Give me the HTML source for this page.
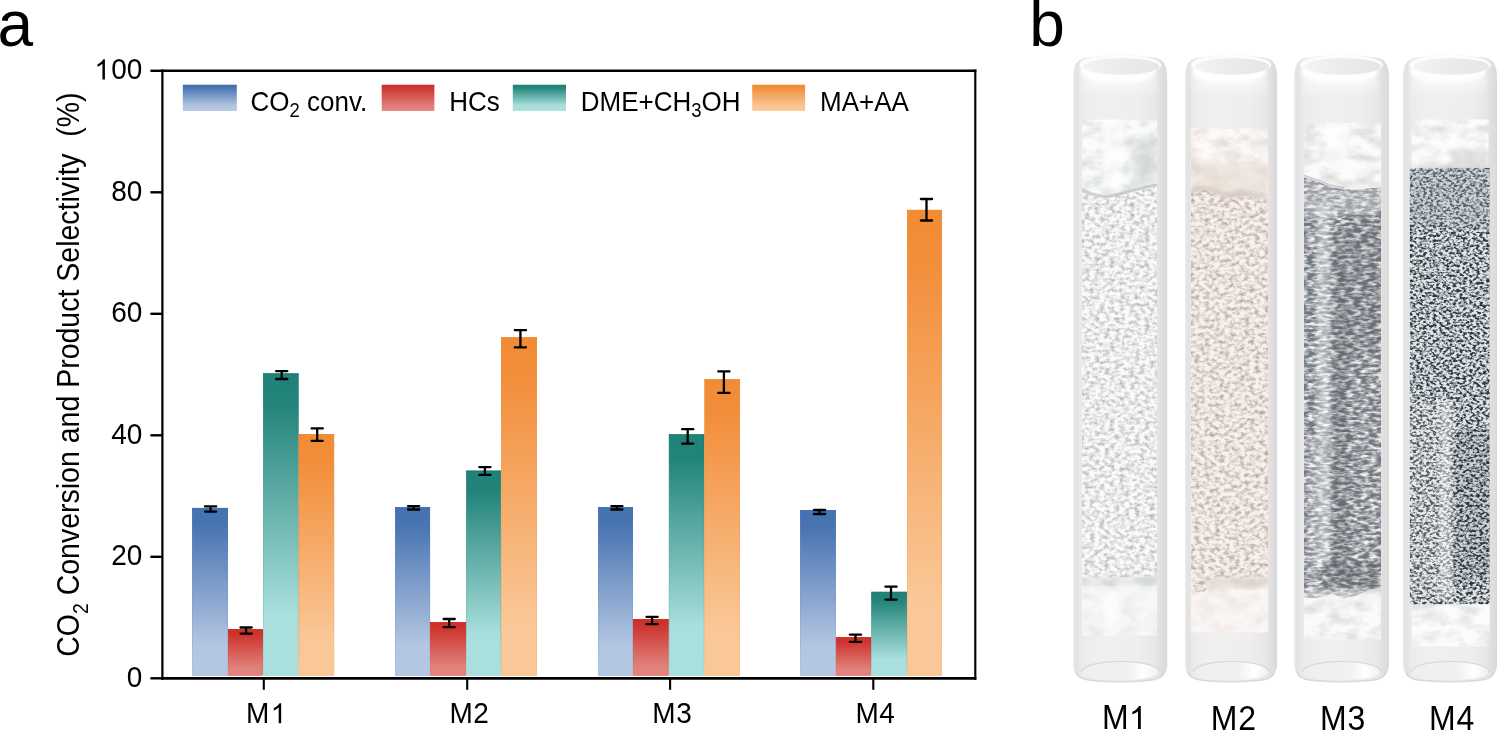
<!DOCTYPE html>
<html><head><meta charset="utf-8"><title>figure</title>
<style>html,body{margin:0;padding:0;background:#fff;}svg{display:block;will-change:transform;}</style></head><body>
<svg width="1498" height="730" viewBox="0 0 1498 730">
<defs>
<linearGradient id="gB" x1="0" y1="0" x2="0" y2="1"><stop offset="0" stop-color="#4472b0"/><stop offset="0.1" stop-color="#4874b1"/><stop offset="0.82" stop-color="#b3c6e2"/><stop offset="1" stop-color="#b3c6e2"/></linearGradient>
<linearGradient id="gR" x1="0" y1="0" x2="0" y2="1"><stop offset="0" stop-color="#cc2f28"/><stop offset="0.1" stop-color="#cd332d"/><stop offset="0.85" stop-color="#e1837c"/><stop offset="1" stop-color="#e1837c"/></linearGradient>
<linearGradient id="gT" x1="0" y1="0" x2="0" y2="1"><stop offset="0" stop-color="#1f8177"/><stop offset="0.1" stop-color="#23847a"/><stop offset="0.8" stop-color="#a9dfdc"/><stop offset="1" stop-color="#a9dfdc"/></linearGradient>
<linearGradient id="gO" x1="0" y1="0" x2="0" y2="1"><stop offset="0" stop-color="#f28b35"/><stop offset="0.1" stop-color="#f28d39"/><stop offset="0.85" stop-color="#fac898"/><stop offset="1" stop-color="#fac898"/></linearGradient>
<linearGradient id="gBs" x1="0" y1="0" x2="0" y2="1"><stop offset="0" stop-color="#2a5aa4"/><stop offset="1" stop-color="#a3bade"/></linearGradient>
<linearGradient id="gRs" x1="0" y1="0" x2="0" y2="1"><stop offset="0" stop-color="#c4140c"/><stop offset="1" stop-color="#e07068"/></linearGradient>
<linearGradient id="gTs" x1="0" y1="0" x2="0" y2="1"><stop offset="0" stop-color="#0c746a"/><stop offset="1" stop-color="#98d8d4"/></linearGradient>
<linearGradient id="gOs" x1="0" y1="0" x2="0" y2="1"><stop offset="0" stop-color="#ee7c1c"/><stop offset="1" stop-color="#f9b878"/></linearGradient>
<linearGradient id="tubeG" x1="0" y1="0" x2="1" y2="0"><stop offset="0" stop-color="#e9e9e9"/><stop offset="0.035" stop-color="#e2e2e2"/><stop offset="0.09" stop-color="#ebebeb"/><stop offset="0.3" stop-color="#f0f0f0"/><stop offset="0.7" stop-color="#eeeeee"/><stop offset="0.88" stop-color="#e7e7e7"/><stop offset="0.95" stop-color="#dedede"/><stop offset="1" stop-color="#dadada"/></linearGradient>
<linearGradient id="topFade" x1="0" y1="0" x2="0" y2="1"><stop offset="0" stop-color="#fff" stop-opacity="0.6"/><stop offset="1" stop-color="#fff" stop-opacity="0"/></linearGradient>
<linearGradient id="rimG" x1="0" y1="0" x2="1" y2="0"><stop offset="0" stop-color="#f4f4f4"/><stop offset="0.5" stop-color="#ebebeb"/><stop offset="1" stop-color="#e6e6e6"/></linearGradient>
<linearGradient id="botG" x1="0" y1="0" x2="1" y2="0"><stop offset="0" stop-color="#efefef"/><stop offset="0.6" stop-color="#f1f1f1"/><stop offset="0.8" stop-color="#ffffff"/><stop offset="1" stop-color="#f0f0f0"/></linearGradient>
<filter id="soft" x="-5%" y="-5%" width="110%" height="110%"><feGaussianBlur stdDeviation="0.7"/></filter>
<filter id="soft3" x="-20%" y="-40%" width="140%" height="180%"><feGaussianBlur stdDeviation="1.6"/></filter>
<filter id="soft2" x="-30%" y="-30%" width="160%" height="160%"><feGaussianBlur stdDeviation="2.4"/></filter>
<filter id="g1" filterUnits="userSpaceOnUse" x="1060" y="100" width="440" height="560" color-interpolation-filters="sRGB"><feTurbulence type="fractalNoise" baseFrequency="0.2 0.28" numOctaves="3" seed="3"/><feColorMatrix type="matrix" values="2.2 0 0 0 -0.33 2.2 0 0 0 -0.33 2.2 0 0 0 -0.33 0 0 0 0 1"/><feGaussianBlur stdDeviation="0.3"/><feComponentTransfer><feFuncR type="table" tableValues="0.714 0.984"/><feFuncG type="table" tableValues="0.714 0.984"/><feFuncB type="table" tableValues="0.714 0.984"/></feComponentTransfer><feComposite in2="SourceGraphic" operator="in"/></filter>
<filter id="w1" filterUnits="userSpaceOnUse" x="1060" y="100" width="440" height="560" color-interpolation-filters="sRGB"><feTurbulence type="fractalNoise" baseFrequency="0.05 0.08" numOctaves="4" seed="5"/><feColorMatrix type="matrix" values="2.2 0 0 0 -0.42 2.2 0 0 0 -0.42 2.2 0 0 0 -0.42 0 0 0 0 1"/><feComponentTransfer><feFuncR type="table" tableValues="0.839 0.988"/><feFuncG type="table" tableValues="0.859 0.988"/><feFuncB type="table" tableValues="0.859 0.988"/></feComponentTransfer><feComposite in2="SourceGraphic" operator="in"/></filter>
<filter id="g2" filterUnits="userSpaceOnUse" x="1060" y="100" width="440" height="560" color-interpolation-filters="sRGB"><feTurbulence type="fractalNoise" baseFrequency="0.2 0.27" numOctaves="3" seed="8"/><feColorMatrix type="matrix" values="2.2 0 0 0 -0.32 2.2 0 0 0 -0.32 2.2 0 0 0 -0.32 0 0 0 0 1"/><feGaussianBlur stdDeviation="0.3"/><feComponentTransfer><feFuncR type="table" tableValues="0.690 0.980"/><feFuncG type="table" tableValues="0.643 0.945"/><feFuncB type="table" tableValues="0.612 0.933"/></feComponentTransfer><feComposite in2="SourceGraphic" operator="in"/></filter>
<filter id="w2" filterUnits="userSpaceOnUse" x="1060" y="100" width="440" height="560" color-interpolation-filters="sRGB"><feTurbulence type="fractalNoise" baseFrequency="0.05 0.08" numOctaves="4" seed="9"/><feColorMatrix type="matrix" values="2.2 0 0 0 -0.38 2.2 0 0 0 -0.38 2.2 0 0 0 -0.38 0 0 0 0 1"/><feComponentTransfer><feFuncR type="table" tableValues="0.902 0.992"/><feFuncG type="table" tableValues="0.867 0.980"/><feFuncB type="table" tableValues="0.847 0.973"/></feComponentTransfer><feComposite in2="SourceGraphic" operator="in"/></filter>
<filter id="g3" filterUnits="userSpaceOnUse" x="1060" y="100" width="440" height="560" color-interpolation-filters="sRGB"><feTurbulence type="fractalNoise" baseFrequency="0.13 0.34" numOctaves="2" seed="12"/><feColorMatrix type="matrix" values="2.6 0 0 0 -0.93 2.6 0 0 0 -0.93 2.6 0 0 0 -0.93 0 0 0 0 1"/><feGaussianBlur stdDeviation="0.4"/><feComponentTransfer><feFuncR type="table" tableValues="0.447 0.949"/><feFuncG type="table" tableValues="0.471 0.949"/><feFuncB type="table" tableValues="0.502 0.949"/></feComponentTransfer><feComposite in2="SourceGraphic" operator="in"/></filter>
<filter id="w3" filterUnits="userSpaceOnUse" x="1060" y="100" width="440" height="560" color-interpolation-filters="sRGB"><feTurbulence type="fractalNoise" baseFrequency="0.05 0.08" numOctaves="4" seed="15"/><feColorMatrix type="matrix" values="2.2 0 0 0 -0.38 2.2 0 0 0 -0.38 2.2 0 0 0 -0.38 0 0 0 0 1"/><feComponentTransfer><feFuncR type="table" tableValues="0.878 0.992"/><feFuncG type="table" tableValues="0.863 0.988"/><feFuncB type="table" tableValues="0.863 0.988"/></feComponentTransfer><feComposite in2="SourceGraphic" operator="in"/></filter>
<filter id="g4" filterUnits="userSpaceOnUse" x="1060" y="100" width="440" height="560" color-interpolation-filters="sRGB"><feTurbulence type="fractalNoise" baseFrequency="0.3 0.4" numOctaves="2" seed="21"/><feColorMatrix type="matrix" values="3.8 0 0 0 -1.24 3.8 0 0 0 -1.24 3.8 0 0 0 -1.24 0 0 0 0 1"/><feGaussianBlur stdDeviation="0.3"/><feComponentTransfer><feFuncR type="table" tableValues="0.188 0.878"/><feFuncG type="table" tableValues="0.220 0.902"/><feFuncB type="table" tableValues="0.243 0.918"/></feComponentTransfer><feComposite in2="SourceGraphic" operator="in"/></filter>
<filter id="w4" filterUnits="userSpaceOnUse" x="1060" y="100" width="440" height="560" color-interpolation-filters="sRGB"><feTurbulence type="fractalNoise" baseFrequency="0.05 0.08" numOctaves="4" seed="25"/><feColorMatrix type="matrix" values="2.2 0 0 0 -0.38 2.2 0 0 0 -0.38 2.2 0 0 0 -0.38 0 0 0 0 1"/><feComponentTransfer><feFuncR type="table" tableValues="0.875 0.992"/><feFuncG type="table" tableValues="0.882 0.992"/><feFuncB type="table" tableValues="0.882 0.992"/></feComponentTransfer><feComposite in2="SourceGraphic" operator="in"/></filter>
<clipPath id="cp1"><rect x="1082.0" y="119.4" width="75.1" height="516.1"/></clipPath>
<clipPath id="cp2"><rect x="1191.0" y="128.2" width="77.0" height="504.4"/></clipPath>
<clipPath id="cp3"><rect x="1304.0" y="123.0" width="77.0" height="516.6"/></clipPath>
<clipPath id="cp4"><rect x="1409.6" y="119.2" width="80.2" height="527.4"/></clipPath>
</defs>
<rect width="1498" height="730" fill="#fff"/>
<text x="-2.4" y="46.3" font-family="Liberation Sans, sans-serif" font-size="64">a</text>
<text x="1029.3" y="46.3" font-family="Liberation Sans, sans-serif" font-size="64">b</text>
<rect x="192.45" y="508.25" width="35.20" height="167.20" fill="url(#gB)" stroke="url(#gBs)" stroke-width="0.7"/>
<rect x="228.35" y="629.45" width="34.30" height="46.00" fill="url(#gR)" stroke="url(#gRs)" stroke-width="0.7"/>
<rect x="263.35" y="373.65" width="34.90" height="301.80" fill="url(#gT)" stroke="url(#gTs)" stroke-width="0.7"/>
<rect x="298.95" y="434.35" width="34.90" height="241.10" fill="url(#gO)" stroke="url(#gOs)" stroke-width="0.7"/>
<rect x="395.45" y="507.45" width="34.30" height="168.00" fill="url(#gB)" stroke="url(#gBs)" stroke-width="0.7"/>
<rect x="430.45" y="622.40" width="35.30" height="53.05" fill="url(#gR)" stroke="url(#gRs)" stroke-width="0.7"/>
<rect x="466.45" y="470.85" width="34.20" height="204.60" fill="url(#gT)" stroke="url(#gTs)" stroke-width="0.7"/>
<rect x="501.35" y="337.55" width="35.30" height="337.90" fill="url(#gO)" stroke="url(#gOs)" stroke-width="0.7"/>
<rect x="598.45" y="507.45" width="34.20" height="168.00" fill="url(#gB)" stroke="url(#gBs)" stroke-width="0.7"/>
<rect x="633.35" y="619.35" width="35.10" height="56.10" fill="url(#gR)" stroke="url(#gRs)" stroke-width="0.7"/>
<rect x="669.15" y="434.55" width="34.90" height="240.90" fill="url(#gT)" stroke="url(#gTs)" stroke-width="0.7"/>
<rect x="704.75" y="379.55" width="34.90" height="295.90" fill="url(#gO)" stroke="url(#gOs)" stroke-width="0.7"/>
<rect x="800.45" y="510.45" width="35.10" height="165.00" fill="url(#gB)" stroke="url(#gBs)" stroke-width="0.7"/>
<rect x="836.25" y="637.45" width="34.70" height="38.00" fill="url(#gR)" stroke="url(#gRs)" stroke-width="0.7"/>
<rect x="871.65" y="592.05" width="35.10" height="83.40" fill="url(#gT)" stroke="url(#gTs)" stroke-width="0.7"/>
<rect x="907.45" y="210.15" width="34.20" height="465.30" fill="url(#gO)" stroke="url(#gOs)" stroke-width="0.7"/>
<path d="M205.0 506.4H216.2M205.0 511.6H216.2M210.6 506.4V511.6" stroke="#000" stroke-width="2.3" stroke-linecap="round" fill="none"/>
<path d="M240.5 627.5H251.7M240.5 633.6H251.7M246.1 627.5V633.6" stroke="#000" stroke-width="2.3" stroke-linecap="round" fill="none"/>
<path d="M276.1 371.2H287.3M276.1 379.0H287.3M281.7 371.2V379.0" stroke="#000" stroke-width="2.3" stroke-linecap="round" fill="none"/>
<path d="M311.6 428.4H322.8M311.6 440.8H322.8M317.2 428.4V440.8" stroke="#000" stroke-width="2.3" stroke-linecap="round" fill="none"/>
<path d="M408.0 506.1H419.2M408.0 509.5H419.2M413.6 506.1V509.5" stroke="#000" stroke-width="2.3" stroke-linecap="round" fill="none"/>
<path d="M443.6 619.0H454.8M443.6 627.05H454.8M449.2 619.0V627.05" stroke="#000" stroke-width="2.3" stroke-linecap="round" fill="none"/>
<path d="M479.3 467.05H490.5M479.3 474.9H490.5M484.9 467.05V474.9" stroke="#000" stroke-width="2.3" stroke-linecap="round" fill="none"/>
<path d="M514.8 330.2H526.0M514.8 347.3H526.0M520.4 330.2V347.3" stroke="#000" stroke-width="2.3" stroke-linecap="round" fill="none"/>
<path d="M611.3 506.1H622.5M611.3 509.5H622.5M616.9 506.1V509.5" stroke="#000" stroke-width="2.3" stroke-linecap="round" fill="none"/>
<path d="M646.5 616.8H657.7M646.5 624.1H657.7M652.1 616.8V624.1" stroke="#000" stroke-width="2.3" stroke-linecap="round" fill="none"/>
<path d="M682.1 429.2H693.3M682.1 443.6H693.3M687.7 429.2V443.6" stroke="#000" stroke-width="2.3" stroke-linecap="round" fill="none"/>
<path d="M718.3 371.4H729.5M718.3 392.9H729.5M723.9 371.4V392.9" stroke="#000" stroke-width="2.3" stroke-linecap="round" fill="none"/>
<path d="M813.9 510.0H825.1M813.9 514.0H825.1M819.5 510.0V514.0" stroke="#000" stroke-width="2.3" stroke-linecap="round" fill="none"/>
<path d="M849.9 634.7H861.1M849.9 641.8H861.1M855.5 634.7V641.8" stroke="#000" stroke-width="2.3" stroke-linecap="round" fill="none"/>
<path d="M885.4 586.7H896.6M885.4 599.6H896.6M891.0 586.7V599.6" stroke="#000" stroke-width="2.3" stroke-linecap="round" fill="none"/>
<path d="M920.9 199.0H932.1M920.9 220.5H932.1M926.5 199.0V220.5" stroke="#000" stroke-width="2.3" stroke-linecap="round" fill="none"/>
<path d="M162.4 69.6V679.65" stroke="#000" stroke-width="2.25" fill="none"/>
<path d="M975.3 69.6V679.65" stroke="#000" stroke-width="2.15" fill="none"/>
<path d="M161.3 70.8H976.3499999999999" stroke="#000" stroke-width="2.4" fill="none"/>
<path d="M161.3 678.3H976.3499999999999" stroke="#000" stroke-width="2.7" fill="none"/>
<line x1="150.4" y1="70.80" x2="162.4" y2="70.80" stroke="#000" stroke-width="2.4"/>
<path transform="translate(94.48,79.40) scale(0.013672,0.013672)" d="M763 0H583V-1147Q518 -1085 412.5 -1023Q307 -961 223 -930V-1104Q374 -1175 487 -1276Q600 -1377 647 -1472H763Z" fill="#000"/><text transform="translate(111.26,79.4) scale(1.0,1.075)" font-family="Liberation Sans, sans-serif" font-size="28">00</text>
<line x1="150.4" y1="192.30" x2="162.4" y2="192.30" stroke="#000" stroke-width="2.4"/>
<text transform="translate(111.26,200.9) scale(1.0,1.075)" font-family="Liberation Sans, sans-serif" font-size="28">80</text>
<line x1="150.4" y1="313.80" x2="162.4" y2="313.80" stroke="#000" stroke-width="2.4"/>
<text transform="translate(111.26,322.4) scale(1.0,1.075)" font-family="Liberation Sans, sans-serif" font-size="28">60</text>
<line x1="150.4" y1="435.30" x2="162.4" y2="435.30" stroke="#000" stroke-width="2.4"/>
<text transform="translate(111.26,443.9) scale(1.0,1.075)" font-family="Liberation Sans, sans-serif" font-size="28">40</text>
<line x1="150.4" y1="556.80" x2="162.4" y2="556.80" stroke="#000" stroke-width="2.4"/>
<text transform="translate(111.26,565.4) scale(1.0,1.075)" font-family="Liberation Sans, sans-serif" font-size="28">20</text>
<line x1="150.4" y1="678.30" x2="162.4" y2="678.30" stroke="#000" stroke-width="2.4"/>
<text transform="translate(126.83,686.9) scale(1.0,1.075)" font-family="Liberation Sans, sans-serif" font-size="28">0</text>
<line x1="263.8" y1="678.3" x2="263.8" y2="689.8" stroke="#000" stroke-width="2.1"/>
<text transform="translate(246.0,723.3) scale(1.0,1.08)" font-family="Liberation Sans, sans-serif" font-size="28">M</text><path transform="translate(270.73,723.30) scale(0.013672,0.013672)" d="M763 0H583V-1147Q518 -1085 412.5 -1023Q307 -961 223 -930V-1104Q374 -1175 487 -1276Q600 -1377 647 -1472H763Z" fill="#000"/>
<line x1="467.2" y1="678.3" x2="467.2" y2="689.8" stroke="#000" stroke-width="2.1"/>
<text transform="translate(449.4,723.3) scale(1.0,1.08)" font-family="Liberation Sans, sans-serif" font-size="28">M</text><text transform="translate(473.23,723.3) scale(1.0,1.08)" font-family="Liberation Sans, sans-serif" font-size="28">2</text>
<line x1="670.1" y1="678.3" x2="670.1" y2="689.8" stroke="#000" stroke-width="2.1"/>
<text transform="translate(652.3,723.3) scale(1.0,1.08)" font-family="Liberation Sans, sans-serif" font-size="28">M</text><text transform="translate(676.13,723.3) scale(1.0,1.08)" font-family="Liberation Sans, sans-serif" font-size="28">3</text>
<line x1="873.3" y1="678.3" x2="873.3" y2="689.8" stroke="#000" stroke-width="2.1"/>
<text transform="translate(855.5,723.3) scale(1.0,1.08)" font-family="Liberation Sans, sans-serif" font-size="28">M</text><text transform="translate(879.33,723.3) scale(1.0,1.08)" font-family="Liberation Sans, sans-serif" font-size="28">4</text>
<rect x="182.8" y="84.7" width="54.0" height="26.2" fill="url(#gB)"/>
<rect x="381.7" y="84.7" width="52.7" height="26.2" fill="url(#gR)"/>
<rect x="512.8" y="84.7" width="53.2" height="26.2" fill="url(#gT)"/>
<rect x="752.2" y="84.7" width="52.9" height="26.2" fill="url(#gO)"/>
<text transform="translate(250.6,110.9) scale(1,1.055)" font-family="Liberation Sans, sans-serif" font-size="26">CO<tspan font-size="18.5" dy="6">2</tspan><tspan dy="-6"> conv.</tspan></text>
<text transform="translate(449.3,110.9) scale(1,1.055)" font-family="Liberation Sans, sans-serif" font-size="26">HCs</text>
<text transform="translate(580.7,110.9) scale(1,1.055)" font-family="Liberation Sans, sans-serif" font-size="26">DME+CH<tspan font-size="18.5" dy="6">3</tspan><tspan dy="-6">OH</tspan></text>
<text transform="translate(820.0,110.9) scale(1,1.055)" font-family="Liberation Sans, sans-serif" font-size="26">MA+AA</text>
<text transform="translate(79.3,656.8) rotate(-90) scale(1,1.12)" font-family="Liberation Sans, sans-serif" font-size="28.5">CO<tspan font-size="19.5" dy="7.5">2</tspan><tspan dy="-7.5"> Conversion and Product Selectivity</tspan><tspan dx="16.6">(%)</tspan></text>
<g filter="url(#soft)"><path d="M1073.2 77.5 Q1073.2 58.5 1086.2 57.5 Q1120.2 52.5 1154.2 57.5 Q1167.2 58.5 1167.2 77.5 V664.4 Q1167.2 678.4 1150.2 679.9 Q1120.2 682.9 1090.2 679.9 Q1073.2 678.4 1073.2 664.4 Z" fill="url(#tubeG)"/></g>
<ellipse cx="1118.2" cy="72" rx="38.0" ry="11.5" fill="#fff" opacity="0.95" filter="url(#soft3)"/>
<rect x="1082.2" y="78" width="74.0" height="20" fill="url(#topFade)" filter="url(#soft2)"/>
<ellipse cx="1120.2" cy="65.2" rx="41.0" ry="10.2" fill="#fcfcfc" filter="url(#soft)"/>
<ellipse cx="1121.4" cy="66.4" rx="37.8" ry="8.2" fill="url(#rimG)" filter="url(#soft)"/>
<path d="M1076.2 672.4 Q1078.2 679.0 1090.2 680.1999999999999 Q1120.2 683.1999999999999 1150.2 680.1999999999999 Q1162.2 679.0 1164.2 672.4" fill="none" stroke="#d2d2d2" stroke-width="1.6" opacity="0.8" filter="url(#soft)"/>
<path d="M1081.7 671.9 A38.7 10.6 0 0 1 1159.2 671.9 Q1155.2 679.1999999999999 1120.2 679.8 Q1085.2 679.1999999999999 1081.7 671.9Z" fill="url(#botG)" filter="url(#soft)"/>
<path d="M1081.7 671.9 A38.7 10.6 0 0 1 1159.2 671.9" fill="none" stroke="#d9d9d9" stroke-width="1.3" filter="url(#soft)"/>
<g clip-path="url(#cp1)">
<rect x="1082.0" y="119.4" width="75.1" height="516.1" fill="#000" opacity="1" filter="url(#w1)"/>
<rect x="1102.0" y="119.4" width="22.0" height="70.0" fill="#fff" opacity="0.65" filter="url(#soft2)"/>
<rect x="1132.0" y="145.4" width="25.1" height="40.0" fill="#c4c9c9" opacity="0.4" filter="url(#soft2)"/>
<path d="M1082.0 191.0 L1092.0 195.0 L1106.0 198.0 L1120.0 195.0 L1134.0 191.0 L1146.0 188.0 L1157.1 186.0 L1157.1 576.0 L1132.0 577.0 L1107.0 578.0 L1082.0 577.0Z" filter="url(#g1)"/>
<path d="M1082.0 190.0 L1092.0 194.0 L1106.0 197.0 L1120.0 194.0 L1134.0 190.0 L1146.0 187.0 L1157.1 185.0" fill="none" stroke="#bcc1c1" stroke-width="3" opacity="0.7" filter="url(#soft)"/>
<rect x="1082.0" y="577.0" width="75.1" height="9.0" fill="#d6d6d6" opacity="0.5" filter="url(#soft2)"/>
<rect x="1082.0" y="586.0" width="75.1" height="50.0" fill="#f6f6f6" opacity="0.6"/>
<rect x="1104.0" y="590.0" width="16.0" height="44.0" fill="#fff" opacity="0.6" filter="url(#soft2)"/>
</g>
<g filter="url(#soft)"><path d="M1185.1 77.5 Q1185.1 58.5 1198.1 57.5 Q1231.15 52.5 1264.2 57.5 Q1277.2 58.5 1277.2 77.5 V664.4 Q1277.2 678.4 1260.2 679.9 Q1231.15 682.9 1202.1 679.9 Q1185.1 678.4 1185.1 664.4 Z" fill="url(#tubeG)"/></g>
<ellipse cx="1229.15" cy="72" rx="37.1" ry="11.5" fill="#fff" opacity="0.95" filter="url(#soft3)"/>
<rect x="1194.1" y="78" width="72.10000000000014" height="20" fill="url(#topFade)" filter="url(#soft2)"/>
<ellipse cx="1231.15" cy="65.2" rx="40.1" ry="10.2" fill="#fcfcfc" filter="url(#soft)"/>
<ellipse cx="1232.3500000000001" cy="66.4" rx="36.9" ry="8.2" fill="url(#rimG)" filter="url(#soft)"/>
<path d="M1188.1 672.4 Q1190.1 679.0 1202.1 680.1999999999999 Q1231.15 683.1999999999999 1260.2 680.1999999999999 Q1272.2 679.0 1274.2 672.4" fill="none" stroke="#d2d2d2" stroke-width="1.6" opacity="0.8" filter="url(#soft)"/>
<path d="M1193.6 671.9 A37.8 10.6 0 0 1 1269.2 671.9 Q1265.2 679.1999999999999 1231.15 679.8 Q1197.1 679.1999999999999 1193.6 671.9Z" fill="url(#botG)" filter="url(#soft)"/>
<path d="M1193.6 671.9 A37.8 10.6 0 0 1 1269.2 671.9" fill="none" stroke="#d9d9d9" stroke-width="1.3" filter="url(#soft)"/>
<g clip-path="url(#cp2)">
<rect x="1191.0" y="128.2" width="77.0" height="504.4" fill="#000" opacity="1" filter="url(#w2)"/>
<rect x="1191.0" y="162.2" width="77.0" height="36.0" fill="#e3d6ca" opacity="0.5" filter="url(#soft2)"/>
<path d="M1191.0 193.0 L1203.0 190.0 L1215.0 193.0 L1227.0 198.0 L1241.0 195.0 L1253.0 197.0 L1268.0 199.0 L1268.0 577.0 L1231.0 578.0 L1209.0 580.0 L1205.0 592.0 L1191.0 594.0Z" filter="url(#g2)"/>
<path d="M1191.0 191.0 L1203.0 188.0 L1215.0 191.0 L1227.0 196.0 L1241.0 193.0 L1253.0 195.0 L1268.0 197.0" fill="none" stroke="#b3a59b" stroke-width="4" opacity="0.55" filter="url(#soft2)"/>
<rect x="1207.0" y="578.0" width="61.0" height="10.0" fill="#d2c4ba" opacity="0.5" filter="url(#soft2)"/>
<rect x="1191.0" y="592.0" width="77.0" height="42.0" fill="#f8f4f2" opacity="0.5"/>
</g>
<g filter="url(#soft)"><path d="M1294.2 77.5 Q1294.2 58.5 1307.2 57.5 Q1341.6 52.5 1376.0 57.5 Q1389.0 58.5 1389.0 77.5 V664.4 Q1389.0 678.4 1372.0 679.9 Q1341.6 682.9 1311.2 679.9 Q1294.2 678.4 1294.2 664.4 Z" fill="url(#tubeG)"/></g>
<ellipse cx="1339.6" cy="72" rx="38.4" ry="11.5" fill="#fff" opacity="0.95" filter="url(#soft3)"/>
<rect x="1303.2" y="78" width="74.79999999999995" height="20" fill="url(#topFade)" filter="url(#soft2)"/>
<ellipse cx="1341.6" cy="65.2" rx="41.4" ry="10.2" fill="#fcfcfc" filter="url(#soft)"/>
<ellipse cx="1342.8" cy="66.4" rx="38.2" ry="8.2" fill="url(#rimG)" filter="url(#soft)"/>
<path d="M1297.2 672.4 Q1299.2 679.0 1311.2 680.1999999999999 Q1341.6 683.1999999999999 1372.0 680.1999999999999 Q1384.0 679.0 1386.0 672.4" fill="none" stroke="#d2d2d2" stroke-width="1.6" opacity="0.8" filter="url(#soft)"/>
<path d="M1302.7 671.9 A39.1 10.6 0 0 1 1381.0 671.9 Q1377.0 679.1999999999999 1341.6 679.8 Q1306.2 679.1999999999999 1302.7 671.9Z" fill="url(#botG)" filter="url(#soft)"/>
<path d="M1302.7 671.9 A39.1 10.6 0 0 1 1381.0 671.9" fill="none" stroke="#d9d9d9" stroke-width="1.3" filter="url(#soft)"/>
<g clip-path="url(#cp3)">
<rect x="1304.0" y="123.0" width="77.0" height="516.6" fill="#000" opacity="1" filter="url(#w3)"/>
<rect x="1326.0" y="123.0" width="22.0" height="50.0" fill="#fff" opacity="0.6" filter="url(#soft2)"/>
<path d="M1304.0 177.0 L1316.0 181.0 L1331.0 187.0 L1344.0 189.5 L1356.0 189.5 L1368.0 188.5 L1381.0 187.5 L1381.0 587.0 L1368.0 590.0 L1356.0 596.0 L1344.0 598.0 L1332.0 594.0 L1318.0 598.0 L1304.0 598.0Z" filter="url(#g3)"/>
<path d="M1304.0 177.0 L1316.0 181.0 L1331.0 187.0 L1344.0 189.5 L1356.0 189.5 L1368.0 188.5 L1381.0 187.5 L1381.0 215.0 L1304.0 215.0Z" fill="#e8e8ea" opacity="0.38" filter="url(#soft2)"/>
<path d="M1304.0 175.5 L1316.0 179.5 L1331.0 185.5 L1344.0 188.0" fill="none" stroke="#a4a8ac" stroke-width="1.8" opacity="0.55" filter="url(#soft)"/>
<rect x="1317.0" y="205.0" width="13.0" height="360.0" fill="#fff" opacity="0.42" filter="url(#soft2)"/>
<rect x="1309.0" y="440.0" width="9.0" height="150.0" fill="#fff" opacity="0.22" filter="url(#soft2)"/>
<rect x="1334.0" y="230.0" width="14.0" height="340.0" fill="#3a4046" opacity="0.22" filter="url(#soft2)"/>
<rect x="1348.0" y="215.0" width="33.0" height="140.0" fill="#3a4046" opacity="0.14" filter="url(#soft2)"/>
<rect x="1324.0" y="562.0" width="57.0" height="30.0" fill="#2a3036" opacity="0.18" filter="url(#soft2)"/>
<rect x="1304.0" y="589.0" width="77.0" height="12.0" fill="#f4f2f2" opacity="0.5" filter="url(#soft2)"/>
</g>
<g filter="url(#soft)"><path d="M1403.0 77.5 Q1403.0 58.5 1416.0 57.5 Q1450.0 52.5 1484.0 57.5 Q1497.0 58.5 1497.0 77.5 V664.4 Q1497.0 678.4 1480.0 679.9 Q1450.0 682.9 1420.0 679.9 Q1403.0 678.4 1403.0 664.4 Z" fill="url(#tubeG)"/></g>
<ellipse cx="1448.0" cy="72" rx="38.0" ry="11.5" fill="#fff" opacity="0.95" filter="url(#soft3)"/>
<rect x="1412.0" y="78" width="74.0" height="20" fill="url(#topFade)" filter="url(#soft2)"/>
<ellipse cx="1450.0" cy="65.2" rx="41.0" ry="10.2" fill="#fcfcfc" filter="url(#soft)"/>
<ellipse cx="1451.2" cy="66.4" rx="37.8" ry="8.2" fill="url(#rimG)" filter="url(#soft)"/>
<path d="M1406.0 672.4 Q1408.0 679.0 1420.0 680.1999999999999 Q1450.0 683.1999999999999 1480.0 680.1999999999999 Q1492.0 679.0 1494.0 672.4" fill="none" stroke="#d2d2d2" stroke-width="1.6" opacity="0.8" filter="url(#soft)"/>
<path d="M1411.5 671.9 A38.7 10.6 0 0 1 1489.0 671.9 Q1485.0 679.1999999999999 1450.0 679.8 Q1415.0 679.1999999999999 1411.5 671.9Z" fill="url(#botG)" filter="url(#soft)"/>
<path d="M1411.5 671.9 A38.7 10.6 0 0 1 1489.0 671.9" fill="none" stroke="#d9d9d9" stroke-width="1.3" filter="url(#soft)"/>
<g clip-path="url(#cp4)">
<rect x="1411.6" y="119.2" width="77.0" height="49.0" fill="#000" opacity="1" filter="url(#w4)"/>
<rect x="1451.6" y="150.0" width="37.0" height="16.0" fill="#c9cdcd" opacity="0.5" filter="url(#soft2)"/>
<rect x="1411.8" y="600.0" width="78.0" height="46.6" fill="#000" opacity="1" filter="url(#w4)"/>
<rect x="1409.6" y="167.9" width="80.2" height="436.3" fill="#000" opacity="1" filter="url(#g4)"/>
<rect x="1409.6" y="166.0" width="80.2" height="60.0" fill="#a9afb4" opacity="0.32" filter="url(#soft2)"/>
<rect x="1409.6" y="400.0" width="40.0" height="200.0" fill="#fff" opacity="0.16" filter="url(#soft2)"/>
<rect x="1439.6" y="400.0" width="13.0" height="200.0" fill="#fff" opacity="0.38" filter="url(#soft2)"/>
<rect x="1453.6" y="430.0" width="36.2" height="150.0" fill="#20262c" opacity="0.1" filter="url(#soft2)"/>
</g>
<text transform="translate(1101.92,729.1) scale(1.0,1.08)" font-family="Liberation Sans, sans-serif" font-size="32">M</text><path transform="translate(1128.88,729.10) scale(0.015625,0.015625)" d="M763 0H583V-1147Q518 -1085 412.5 -1023Q307 -961 223 -930V-1104Q374 -1175 487 -1276Q600 -1377 647 -1472H763Z" fill="#000"/>
<text transform="translate(1210.72,730.3) scale(1.0,1.08)" font-family="Liberation Sans, sans-serif" font-size="32">M</text><text transform="translate(1238.28,730.3) scale(1.0,1.08)" font-family="Liberation Sans, sans-serif" font-size="32">2</text>
<text transform="translate(1319.92,729.5) scale(1.0,1.08)" font-family="Liberation Sans, sans-serif" font-size="32">M</text><text transform="translate(1347.48,729.5) scale(1.0,1.08)" font-family="Liberation Sans, sans-serif" font-size="32">3</text>
<text transform="translate(1428.92,729.5) scale(1.0,1.08)" font-family="Liberation Sans, sans-serif" font-size="32">M</text><text transform="translate(1456.48,729.5) scale(1.0,1.08)" font-family="Liberation Sans, sans-serif" font-size="32">4</text>
</svg></body></html>
